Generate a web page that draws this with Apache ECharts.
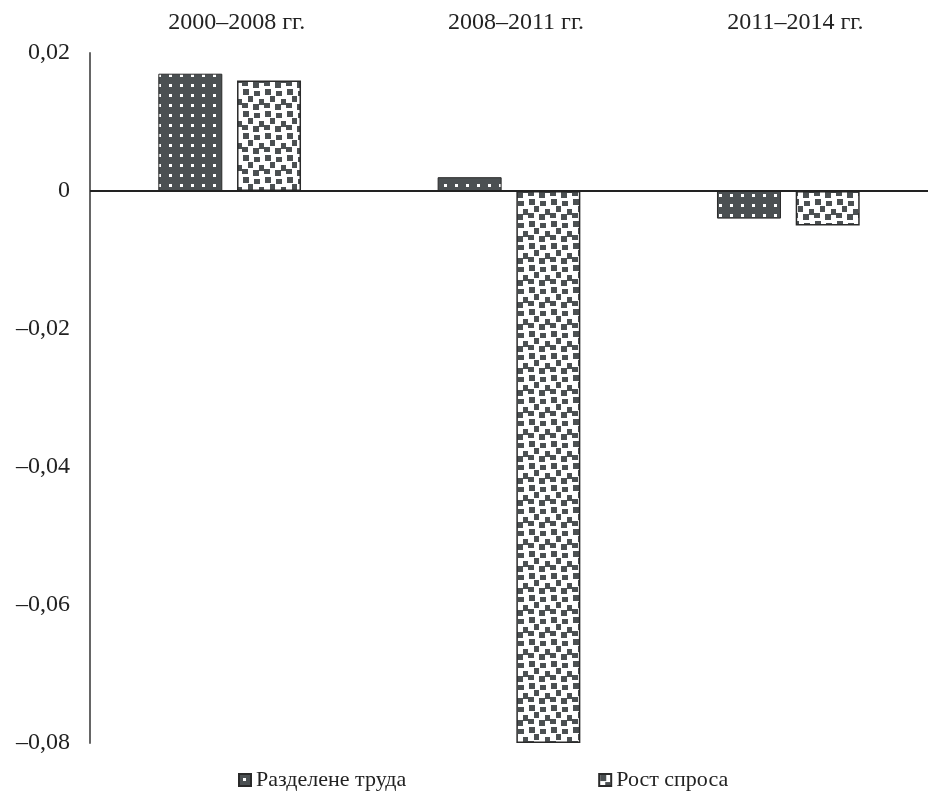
<!DOCTYPE html>
<html>
<head>
<meta charset="utf-8">
<script src="https://cdn.jsdelivr.net/npm/echarts@6/dist/echarts.min.js"></script>
<style>
html,body{margin:0;padding:0;background:#fff;}
#chart{width:928px;height:795px;}
</style>
</head>
<body>
<div id="chart"></div>
<script>
var categories = ['2000\u20132008 гг.', '2008\u20132011 гг.', '2011\u20132014 гг.'];
var seriesNames = ['Разделене труда', 'Рост спроса'];
var laborValues = [0.017, 0.002, -0.004];
var demandValues = [0.016, -0.08, -0.005];
var yTicks = {min: -0.08, max: 0.02, interval: 0.02};

function dotPattern() {
  var c = document.createElement('canvas');
  c.width = 11; c.height = 10;
  var g = c.getContext('2d');
  g.fillStyle = '#4b5052';
  g.fillRect(0, 0, 11, 10);
  g.fillStyle = '#ffffff';
  g.fillRect(4, 4, 3, 3);
  return c;
}
function squarePattern() {
  var c = document.createElement('canvas');
  c.width = 22; c.height = 22;
  var g = c.getContext('2d');
  g.fillStyle = '#ffffff';
  g.fillRect(0, 0, 22, 22);
  g.fillStyle = '#4b5052';
  var sq = [[1,1,6,6],[12,3,6,5],[6,8,5,6],[17,11,6,6],[0,15,6,5],[11,16,6,6]];
  sq.forEach(function (p) { g.fillRect(p[0], p[1], p[2], p[3]); });
  return c;
}

var chart = echarts.init(document.getElementById('chart'));
var font = '"Liberation Serif", "DejaVu Serif", serif';
chart.setOption({
  animation: false,
  backgroundColor: '#ffffff',
  textStyle: {fontFamily: font},
  grid: {left: 90, right: 0, top: 53, bottom: 52, containLabel: false},
  legend: {
    data: seriesNames,
    bottom: -1,
    left: 233,
    itemGap: 192,
    itemWidth: 12,
    itemHeight: 12,
    icon: 'rect',
    textStyle: {fontFamily: font, fontSize: 22, color: '#222', padding: [0, 0, 0, 0]}
  },
  xAxis: {
    type: 'category',
    data: categories,
    position: 'top',
    axisLine: {show: false},
    axisTick: {show: false},
    axisLabel: {fontFamily: font, fontSize: 24, color: '#222', margin: 18, padding: [0, 0, 0, 14]}
  },
  yAxis: {
    type: 'value',
    min: yTicks.min,
    max: yTicks.max,
    interval: yTicks.interval,
    axisLine: {show: true, lineStyle: {color: '#666', width: 2}},
    axisTick: {show: false},
    splitLine: {show: false},
    axisLabel: {
      fontFamily: font, fontSize: 24, color: '#222', margin: 20,
      formatter: function (v) {
        var r = Math.round(v * 100) / 100;
        if (r === 0) return '0';
        return (r < 0 ? '\u2013' : '') + Math.abs(r).toFixed(2).replace('.', ',');
      }
    }
  },
  series: [
    {
      name: seriesNames[0],
      type: 'bar',
      data: laborValues,
      barWidth: 64,
      barGap: '23%',
      itemStyle: {color: {image: dotPattern(), repeat: 'repeat'}, borderColor: '#2a2a2a', borderWidth: 1},
      markLine: {
        silent: true,
        symbol: 'none',
        label: {show: false},
        lineStyle: {color: '#222', width: 2, type: 'solid'},
        data: [{yAxis: 0}]
      }
    },
    {
      name: seriesNames[1],
      type: 'bar',
      data: demandValues,
      barWidth: 64,
      itemStyle: {color: {image: squarePattern(), repeat: 'repeat'}, borderColor: '#2a2a2a', borderWidth: 1.5}
    }
  ]
});
</script>
</body>
</html>
